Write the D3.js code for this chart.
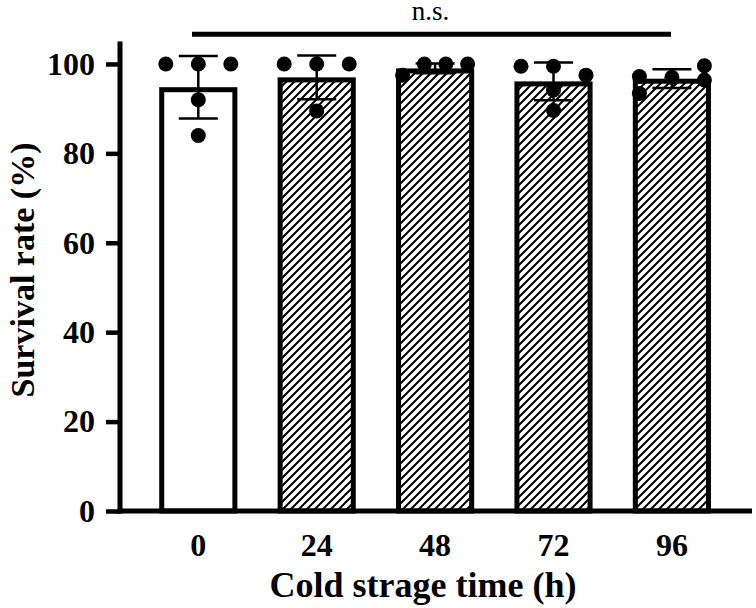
<!DOCTYPE html>
<html>
<head>
<meta charset="utf-8">
<script src="https://cdn.jsdelivr.net/npm/d3@7"></script>
<style>
  html, body { margin: 0; padding: 0; background: #fff; }
  text { font-family: "Liberation Serif", "Times New Roman", serif; }
</style>
</head>
<body>
<div id="chart"></div>
<script>
'use strict';

// storage times (h)
const groups = ['0', '24', '48', '72', '96'];
// bar heights and SD
const means = [94.8, 97.0, 99.0, 96.1, 96.7];
const sds = [7.0, 4.9, 1.1, 4.2, 2.1];
// individual points per group
const points = [
  [100, 100, 100, 92, 84],
  [100, 100, 100, 89.5],
  [100, 100, 100, 97.5],
  [99.5, 99.5, 97.5, 94.2, 89.6],
  [97.2, 97.0, 99.6, 96.4, 93.4]
];
// column of each point in the swarm (-1 left, 0 middle, 1 right)
const pointCols = [
  [-1, 0, 1, 0, 0],
  [-1, 0, 1, 0],
  [-0.33, 0.33, 1, -1],
  [-1, 0, 1, 0, 0],
  [-1, 0, 1, 1, -1]
];
const yTicks = [0, 20, 40, 60, 80, 100];
const hatched = [false, true, true, true, true];

const width = 756, height = 608;
const axisX = 120, axisRight = 752;
const barStroke = 5;

const svg = d3.select('#chart')
  .append('svg')
  .attr('width', width)
  .attr('height', height);

// hatch pattern for the stored groups
svg.append('defs').append('pattern')
  .attr('id', 'hatch')
  .attr('patternUnits', 'userSpaceOnUse')
  .attr('width', 8)
  .attr('height', 8)
  .append('path')
  .attr('d', 'M-2,2 l4,-4 M0,8 l8,-8 M6,10 l4,-4')
  .attr('stroke', '#000')
  .attr('stroke-width', 2);

const y = d3.scaleLinear().domain([0, 105]).range([511, 41.6]);
const x = d3.scaleBand()
  .domain(groups)
  .range([139.1, 731.1])
  .paddingInner(0.34)
  .paddingOuter(0.17);
const jitter = d3.scaleLinear().domain([-1, 1]).range([-32.5, 32.5]);

// bars (border drawn inside the bar)
svg.append('g').selectAll('rect')
  .data(groups)
  .enter()
  .append('rect')
  .attr('x', d => x(d) + barStroke / 2)
  .attr('width', x.bandwidth() - barStroke)
  .attr('y', (d, i) => y(means[i]) + barStroke / 2)
  .attr('height', (d, i) => y(0) - y(means[i]) - barStroke / 2)
  .attr('fill', (d, i) => hatched[i] ? 'url(#hatch)' : '#fff')
  .attr('stroke', '#000')
  .attr('stroke-width', barStroke);

// individual points
const dots = [];
groups.forEach((g, i) => {
  points[i].forEach((v, j) => dots.push({ g: g, v: v, c: pointCols[i][j] }));
});
svg.append('g').selectAll('circle')
  .data(dots)
  .enter()
  .append('circle')
  .attr('cx', d => x(d.g) + x.bandwidth() / 2 + jitter(d.c))
  .attr('cy', d => y(d.v))
  .attr('r', 7.5)
  .attr('fill', '#000');

// error bars (mean +/- SD)
const eb = svg.append('g')
  .attr('stroke', '#000')
  .attr('stroke-width', 2.5);
groups.forEach((g, i) => {
  const cx = x(g) + x.bandwidth() / 2;
  const top = y(means[i] + sds[i]);
  const bot = y(means[i] - sds[i]);
  eb.append('line').attr('x1', cx).attr('x2', cx).attr('y1', top).attr('y2', bot);
  eb.append('line').attr('x1', cx - 19.5).attr('x2', cx + 19.5).attr('y1', top).attr('y2', top);
  eb.append('line').attr('x1', cx - 19.5).attr('x2', cx + 19.5).attr('y1', bot).attr('y2', bot);
});

// y axis
const yAxis = svg.append('g')
  .attr('transform', `translate(${axisX},0)`)
  .call(d3.axisLeft(y).tickValues(yTicks).tickSize(14).tickSizeOuter(0).tickPadding(11));
yAxis.select('.domain').remove();
yAxis.selectAll('.tick line').attr('stroke', '#000').attr('stroke-width', 4.5);
yAxis.selectAll('.tick text')
  .attr('fill', '#000')
  .style('font-size', '32px')
  .style('font-weight', 'bold');
svg.append('line')
  .attr('x1', axisX).attr('x2', axisX)
  .attr('y1', y(0) + 2.5).attr('y2', y(105))
  .attr('stroke', '#000').attr('stroke-width', 5);

// x axis
const xAxis = svg.append('g')
  .attr('transform', `translate(0,${y(0)})`)
  .call(d3.axisBottom(x).tickSize(0).tickPadding(22));
xAxis.select('.domain').remove();
xAxis.selectAll('.tick text')
  .attr('fill', '#000')
  .style('font-size', '32px')
  .style('font-weight', 'bold');
svg.append('line')
  .attr('x1', axisX - 2.5).attr('x2', axisRight)
  .attr('y1', y(0)).attr('y2', y(0))
  .attr('stroke', '#000').attr('stroke-width', 5);

// axis titles
svg.append('text')
  .attr('x', 423)
  .attr('y', 597)
  .attr('text-anchor', 'middle')
  .style('font-size', '36px')
  .style('font-weight', 'bold')
  .text('Cold strage time (h)');

svg.append('text')
  .attr('transform', 'translate(34,270) rotate(-90)')
  .attr('text-anchor', 'middle')
  .style('font-size', '34px')
  .style('font-weight', 'bold')
  .text('Survival rate (%)');

// significance bracket
svg.append('line')
  .attr('x1', 192).attr('x2', 671)
  .attr('y1', 34.3).attr('y2', 34.3)
  .attr('stroke', '#000').attr('stroke-width', 5);
svg.append('text')
  .attr('x', 430.5)
  .attr('y', 20)
  .attr('text-anchor', 'middle')
  .style('font-size', '27px')
  .text('n.s.');
</script>
</body>
</html>
